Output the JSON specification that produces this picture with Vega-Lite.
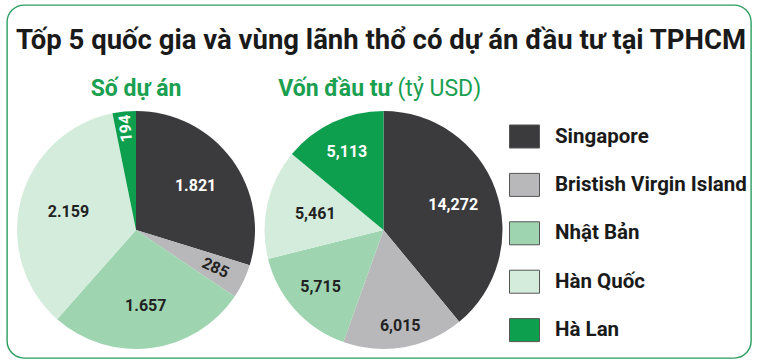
{
  "$schema": "https://vega.github.io/schema/vega-lite/v6.json",
  "width": 759,
  "height": 363,
  "autosize": {"type": "fit", "contains": "padding"},
  "padding": {"left": 7, "top": 5, "right": 8, "bottom": 5},
  "background": "white",
  "config": {
    "view": {"stroke": "#2a9d5f", "strokeWidth": 1.4, "cornerRadius": 17},
    "font": "Roboto"
  },
  "datasets": {
    "heading": [
      {"text": "Tốp 5 quốc gia và vùng lãnh thổ có dự án đầu tư tại TPHCM"}
    ],
    "pies": [
      {"chart": "Số dự án", "country": "Singapore", "rank": 1, "value": 1821, "label": "1.821"},
      {"chart": "Số dự án", "country": "Bristish Virgin Island", "rank": 2, "value": 285, "label": "285"},
      {"chart": "Số dự án", "country": "Nhật Bản", "rank": 3, "value": 1657, "label": "1.657"},
      {"chart": "Số dự án", "country": "Hàn Quốc", "rank": 4, "value": 2159, "label": "2.159"},
      {"chart": "Số dự án", "country": "Hà Lan", "rank": 5, "value": 194, "label": "194"},
      {"chart": "Vốn đầu tư", "country": "Singapore", "rank": 1, "value": 14.272, "label": "14,272"},
      {"chart": "Vốn đầu tư", "country": "Bristish Virgin Island", "rank": 2, "value": 6.015, "label": "6,015"},
      {"chart": "Vốn đầu tư", "country": "Nhật Bản", "rank": 3, "value": 5.715, "label": "5,715"},
      {"chart": "Vốn đầu tư", "country": "Hàn Quốc", "rank": 4, "value": 5.461, "label": "5,461"},
      {"chart": "Vốn đầu tư", "country": "Hà Lan", "rank": 5, "value": 5.113, "label": "5,113"}
    ],
    "subs": [
      {"chart": "Số dự án", "text": "Số dự án"},
      {"chart": "Vốn đầu tư", "text": "Vốn đầu tư"},
      {"chart": "Vốn đầu tư", "text": "(tỷ USD)"}
    ]
  },
  "layer": [
    {
      "data": {"name": "heading"},
      "mark": {"type": "text", "yOffset": -132.5, "dx": 2, "align": "center", "baseline": "alphabetic", "font": "Roboto", "fontSize": 27.5, "fontWeight": "bold", "color": "#1a1a1a"},
      "encoding": {
        "text": {"field": "text", "type": "nominal"}
      }
    },
    {
      "data": {"name": "pies"},
      "transform": [{"filter": "datum.chart === 'Số dự án'"}],
      "mark": {"type": "arc", "outerRadius": 119, "yOffset": 48.5},
      "encoding": {
        "x": {"field": "chart", "type": "nominal", "scale": {"type": "point", "domain": ["Số dự án", "Vốn đầu tư"], "range": [129, 376.5], "padding": 0}, "axis": null},
        "theta": {"field": "value", "type": "quantitative", "stack": true},
        "order": {"field": "rank", "type": "quantitative"},
        "color": {
          "field": "country", "type": "nominal",
          "scale": {
            "domain": ["Singapore", "Bristish Virgin Island", "Nhật Bản", "Hàn Quốc", "Hà Lan"],
            "range": ["#3b3a3c", "#b8b8ba", "#9ed5b0", "#d4ecdc", "#0e9f4e"]
          },
          "legend": {
            "title": null,
            "orient": "none",
            "legendX": 502,
            "legendY": 116,
            "padding": 0,
            "symbolType": "M-1,-0.767H1V0.767H-1Z",
            "symbolSize": 900,
            "symbolStrokeColor": "#555555",
            "symbolStrokeWidth": 1,
            "symbolOpacity": 1,
            "labelFont": "Roboto",
            "labelFontSize": 20.5,
            "labelFontWeight": "bold",
            "labelColor": "#1a1a1a",
            "labelOffset": 15,
            "labelLimit": 300,
            "rowPadding": 18.4
          }
        }
      }
    },
    {
      "data": {"name": "pies"},
      "transform": [{"filter": "datum.chart === 'Vốn đầu tư'"}],
      "mark": {"type": "arc", "outerRadius": 119, "yOffset": 48.5},
      "encoding": {
        "x": {"field": "chart", "type": "nominal"},
        "theta": {"field": "value", "type": "quantitative", "stack": true},
        "order": {"field": "rank", "type": "quantitative"},
        "color": {"field": "country", "type": "nominal"}
      }
    },
    {
      "data": {"name": "pies"},
      "transform": [{"filter": "datum.chart === 'Số dự án'"}],
      "mark": {
        "type": "text", "yOffset": 48.5,
        "radius": {"expr": "datum.country === 'Hà Lan' ? 102 : datum.country === 'Bristish Virgin Island' ? 88 : datum.country === 'Nhật Bản' ? 77 : datum.country === 'Hàn Quốc' ? 70 : 74"},
        "angle": {"expr": "datum.country === 'Hà Lan' ? 265 : datum.country === 'Bristish Virgin Island' ? 25 : 0"},
        "font": "Roboto",
        "fontSize": 16, "fontWeight": "bold", "align": "center", "baseline": "middle"
      },
      "encoding": {
        "x": {"field": "chart", "type": "nominal"},
        "theta": {"field": "value", "type": "quantitative", "stack": true},
        "order": {"field": "rank", "type": "quantitative"},
        "text": {"field": "label", "type": "nominal"},
        "color": {"condition": {"test": "datum.country === 'Singapore' || datum.country === 'Hà Lan'", "value": "#ffffff"}, "value": "#222222"}
      }
    },
    {
      "data": {"name": "pies"},
      "transform": [{"filter": "datum.chart === 'Vốn đầu tư'"}],
      "mark": {
        "type": "text", "yOffset": 48.5,
        "radius": {"expr": "datum.country === 'Bristish Virgin Island' ? 97 : datum.country === 'Nhật Bản' ? 85 : datum.country === 'Hàn Quốc' ? 70 : datum.country === 'Hà Lan' ? 86 : 74"},
        "font": "Roboto",
        "fontSize": 16, "fontWeight": "bold", "align": "center", "baseline": "middle"
      },
      "encoding": {
        "x": {"field": "chart", "type": "nominal"},
        "theta": {"field": "value", "type": "quantitative", "stack": true},
        "order": {"field": "rank", "type": "quantitative"},
        "text": {"field": "label", "type": "nominal"},
        "color": {"condition": {"test": "datum.country === 'Singapore' || datum.country === 'Hà Lan'", "value": "#ffffff"}, "value": "#222222"}
      }
    },
    {
      "data": {"name": "subs"},
      "transform": [{"filter": "datum.text === 'Số dự án'"}],
      "mark": {"type": "text", "yOffset": -85.5, "align": "center", "baseline": "alphabetic", "fontSize": 23, "fontWeight": "bold", "color": "#1aa050", "font": "Roboto"},
      "encoding": {
        "x": {"field": "chart", "type": "nominal"},
        "text": {"field": "text", "type": "nominal"}
      }
    },
    {
      "data": {"name": "subs"},
      "transform": [{"filter": "datum.text === 'Vốn đầu tư'"}],
      "mark": {"type": "text", "yOffset": -85.5, "dx": 8, "align": "right", "baseline": "alphabetic", "fontSize": 23, "fontWeight": "bold", "color": "#1aa050", "font": "Roboto"},
      "encoding": {
        "x": {"field": "chart", "type": "nominal"},
        "text": {"field": "text", "type": "nominal"}
      }
    },
    {
      "data": {"name": "subs"},
      "transform": [{"filter": "datum.text === '(tỷ USD)'"}],
      "mark": {"type": "text", "yOffset": -85.5, "dx": 14, "align": "left", "baseline": "alphabetic", "fontSize": 23, "fontWeight": "normal", "color": "#1aa050", "font": "Roboto"},
      "encoding": {
        "x": {"field": "chart", "type": "nominal"},
        "text": {"field": "text", "type": "nominal"}
      }
    }
  ],
  "resolve": {"scale": {"theta": "independent"}}
}
